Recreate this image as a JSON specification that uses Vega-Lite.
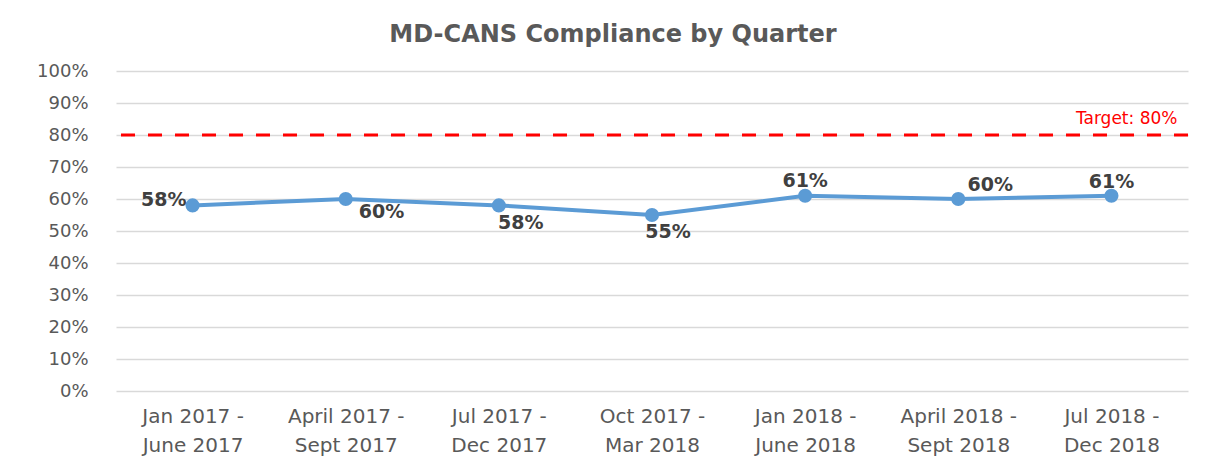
{
  "$schema": "https://vega.github.io/schema/vega-lite/v6.json",
  "width": 1072,
  "height": 320,
  "autosize": {"type": "none"},
  "padding": {"left": 116, "top": 71, "right": 19, "bottom": 78},
  "background": "white",
  "title": {
    "text": "MD-CANS Compliance by Quarter",
    "font": "DejaVu Sans",
    "fontSize": 24,
    "fontWeight": "bold",
    "color": "#595959",
    "anchor": "middle",
    "frame": "group",
    "dx": -39,
    "offset": 15
  },
  "datasets": {
    "main": [
      {"quarter": "Jan 2017 - June 2017", "compliance": 58, "label": "58%"},
      {"quarter": "April 2017 - Sept 2017", "compliance": 60, "label": "60%"},
      {"quarter": "Jul 2017 - Dec 2017", "compliance": 58, "label": "58%"},
      {"quarter": "Oct 2017 - Mar 2018", "compliance": 55, "label": "55%"},
      {"quarter": "Jan 2018 - June 2018", "compliance": 61, "label": "61%"},
      {"quarter": "April 2018 - Sept 2018", "compliance": 60, "label": "60%"},
      {"quarter": "Jul 2018 - Dec 2018", "compliance": 61, "label": "61%"}
    ],
    "target": [
      {"target": 80, "label": "Target: 80%", "quarter": "Jul 2018 - Dec 2018"}
    ]
  },
  "data": {"name": "main"},
  "encoding": {
    "x": {
      "field": "quarter",
      "type": "nominal",
      "sort": null,
      "scale": {
        "type": "point",
        "padding": 0.5,
        "domain": ["Jan 2017 - June 2017", "April 2017 - Sept 2017", "Jul 2017 - Dec 2017", "Oct 2017 - Mar 2018", "Jan 2018 - June 2018", "April 2018 - Sept 2018", "Jul 2018 - Dec 2018"]
      },
      "axis": {
        "title": null,
        "labelAngle": 0,
        "ticks": false,
        "domain": false,
        "labelExpr": "[split(datum.label, ' - ')[0] + ' -', split(datum.label, ' - ')[1]]",
        "labelFont": "DejaVu Sans",
        "labelFontSize": 20,
        "labelColor": "#595959",
        "labelPadding": 15,
        "labelLineHeight": 29,
        "labelBaseline": "top"
      }
    },
    "y": {
      "field": "compliance",
      "type": "quantitative",
      "scale": {"domain": [0, 100], "nice": false},
      "axis": {
        "title": null,
        "values": [0, 10, 20, 30, 40, 50, 60, 70, 80, 90, 100],
        "labelExpr": "datum.value + '%'",
        "ticks": false,
        "domain": false,
        "grid": true,
        "gridColor": "#d9d9d9",
        "gridWidth": 1.5,
        "labelFont": "DejaVu Sans",
        "labelFontSize": 18,
        "labelColor": "#595959",
        "labelPadding": 28
      }
    },
    "text": {"field": "label", "type": "nominal"}
  },
  "layer": [
    {
      "data": {"name": "target"},
      "mark": {"type": "rule", "color": "#ff0000", "strokeWidth": 3, "strokeDash": [14, 13]},
      "encoding": {"y": {"field": "target", "type": "quantitative"}, "x": null, "text": null}
    },
    {
      "data": {"name": "target"},
      "mark": {"type": "text", "color": "#ff0000", "font": "DejaVu Sans", "fontSize": 17, "align": "right", "baseline": "alphabetic", "dx": 66, "dy": -11},
      "encoding": {
        "y": {"field": "target", "type": "quantitative"}
      }
    },
    {
      "mark": {"type": "line", "color": "#5b9bd5", "strokeWidth": 4},
      "encoding": {"text": null}
    },
    {
      "mark": {"type": "point", "filled": true, "color": "#5b9bd5", "size": 200, "opacity": 1},
      "encoding": {"text": null}
    },
    {
      "transform": [{"filter": "datum.quarter == 'Jan 2017 - June 2017'"}],
      "mark": {"type": "text", "font": "DejaVu Sans", "fontSize": 19, "fontWeight": "bold", "color": "#404040", "align": "right", "baseline": "middle", "dx": -6, "dy": -5}
    },
    {
      "transform": [{"filter": "datum.quarter == 'April 2017 - Sept 2017'"}],
      "mark": {"type": "text", "font": "DejaVu Sans", "fontSize": 19, "fontWeight": "bold", "color": "#404040", "align": "left", "baseline": "middle", "dx": 13, "dy": 13}
    },
    {
      "transform": [{"filter": "datum.quarter == 'Jul 2017 - Dec 2017'"}],
      "mark": {"type": "text", "font": "DejaVu Sans", "fontSize": 19, "fontWeight": "bold", "color": "#404040", "align": "center", "baseline": "middle", "dx": 22, "dy": 18}
    },
    {
      "transform": [{"filter": "datum.quarter == 'Oct 2017 - Mar 2018'"}],
      "mark": {"type": "text", "font": "DejaVu Sans", "fontSize": 19, "fontWeight": "bold", "color": "#404040", "align": "center", "baseline": "middle", "dx": 16, "dy": 17}
    },
    {
      "transform": [{"filter": "datum.quarter == 'Jan 2018 - June 2018'"}],
      "mark": {"type": "text", "font": "DejaVu Sans", "fontSize": 19, "fontWeight": "bold", "color": "#404040", "align": "center", "baseline": "middle", "dx": 0, "dy": -15}
    },
    {
      "transform": [{"filter": "datum.quarter == 'April 2018 - Sept 2018'"}],
      "mark": {"type": "text", "font": "DejaVu Sans", "fontSize": 19, "fontWeight": "bold", "color": "#404040", "align": "center", "baseline": "middle", "dx": 32, "dy": -14}
    },
    {
      "transform": [{"filter": "datum.quarter == 'Jul 2018 - Dec 2018'"}],
      "mark": {"type": "text", "font": "DejaVu Sans", "fontSize": 19, "fontWeight": "bold", "color": "#404040", "align": "center", "baseline": "middle", "dx": 0, "dy": -14}
    }
  ],
  "config": {
    "view": {"stroke": null}
  }
}
